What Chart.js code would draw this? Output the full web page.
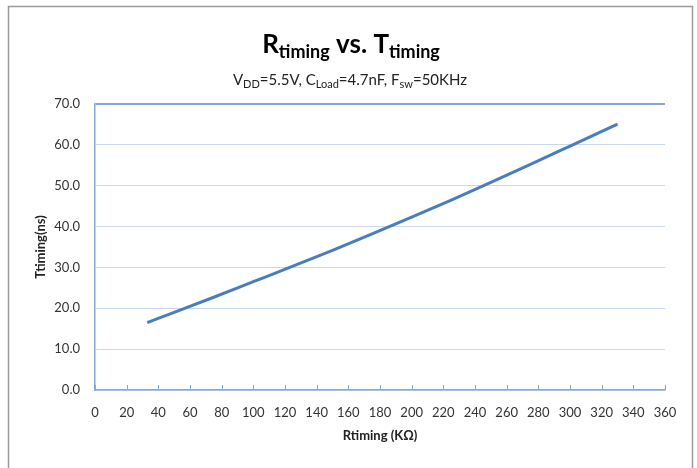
<!DOCTYPE html>
<html>
<head>
<meta charset="utf-8">
<script src="https://cdn.jsdelivr.net/npm/chart.js@4/dist/chart.umd.min.js"></script>
<style>
  body { margin: 0; background: #fff; }
  canvas { display: block; }
</style>
</head>
<body>
<canvas id="chart-rt" width="697" height="468"></canvas>
<script>
// ---------------------------------- data ----------------------------------
const rtiming = [33, 50, 75, 100, 125, 150, 175, 200, 225, 250, 275, 300, 330];
const ttiming = [16.5, 19.0, 22.7, 26.5, 30.3, 34.2, 38.2, 42.3, 46.5, 50.8, 55.2, 59.7, 65.1];
const yTicks = [0, 10, 20, 30, 40, 50, 60, 70];
const xTicks = [0, 20, 40, 60, 80, 100, 120, 140, 160, 180, 200, 220, 240, 260, 280, 300, 320, 340, 360];

const FONT = 'Lato, "Open Sans", "DejaVu Sans", sans-serif';
const axisColor = '#86a8d8';
const gridColor = '#c9d8ee';

// title with subscripts, drawn as rich text above the plot
function drawRich(ctx, parts, cx, baseline) {
    let total = 0;
    parts.forEach(p => {
        ctx.font = p.font;
        p.w = ctx.measureText(p.t).width;
        total += p.w;
    });
    let x = cx - total / 2;
    parts.forEach(p => {
        ctx.font = p.font;
        ctx.fillText(p.t, x, baseline + (p.dy || 0));
        x += p.w;
    });
}

const frameAndTitle = {
    id: 'frameAndTitle',
    afterDraw(chart) {
        const ctx = chart.ctx;
        ctx.save();
        // outer frame
        ctx.strokeStyle = '#9a9a9a';
        ctx.lineWidth = 1.5;
        ctx.strokeRect(8.5, 6.5, 684, 480);

        ctx.fillStyle = '#000';
        ctx.textBaseline = 'alphabetic';
        const big = 'bold 26px ' + FONT;
        const sub = 'bold 18px ' + FONT;
        drawRich(ctx, [
            { t: 'R', font: big },
            { t: 'timing', font: sub, dy: 5 },
            { t: ' vs. T', font: big },
            { t: 'timing', font: sub, dy: 5 }
        ], 351, 53);

        const n = '15px ' + FONT;
        const s = '11px ' + FONT;
        ctx.fillStyle = '#222';
        drawRich(ctx, [
            { t: 'V', font: n }, { t: 'DD', font: s, dy: 3 },
            { t: '=5.5V, C', font: n }, { t: 'Load', font: s, dy: 3 },
            { t: '=4.7nF, F', font: n }, { t: 'sw', font: s, dy: 3 },
            { t: '=50KHz', font: n }
        ], 350, 85);

        // small x tick marks pointing up into the plot
        const xs = chart.scales.x;
        const bottom = chart.chartArea.bottom;
        ctx.strokeStyle = axisColor;
        ctx.lineWidth = 1;
        xTicks.forEach(v => {
            const px = Math.round(xs.getPixelForValue(v)) + 0.5;
            ctx.beginPath();
            ctx.moveTo(px, bottom);
            ctx.lineTo(px, bottom - 5);
            ctx.stroke();
        });
        ctx.restore();
    }
};

const ctxRt = document.getElementById('chart-rt').getContext('2d');
const chart_rt = new Chart(ctxRt, {
    type: 'line',
    data: {
        datasets: [{
            label: 'Ttiming',
            data: rtiming.map((x, i) => ({ x: x, y: ttiming[i] })),
            borderColor: '#4a7ebb',
            backgroundColor: '#4a7ebb',
            borderWidth: 3,
            pointRadius: 0,
            cubicInterpolationMode: 'monotone',
            fill: false
        }]
    },
    options: {
        responsive: false,
        devicePixelRatio: 1,
        animation: false,
        layout: { padding: { top: 104, left: 33, right: 32, bottom: 24 } },
        plugins: {
            legend: { display: false },
            tooltip: { enabled: false }
        },
        scales: {
            x: {
                type: 'linear',
                min: 0,
                max: 360,
                afterFit: s => { s.height = 54; },
                afterBuildTicks: s => { s.ticks = xTicks.map(v => ({ value: v })); },
                grid: { display: false, drawTicks: false },
                border: { display: true, color: axisColor, width: 1.5 },
                ticks: { padding: 15, color: '#333', font: { family: FONT, size: 13 }, maxRotation: 0, autoSkip: false },
                title: { display: true, text: 'Rtiming (KΩ)', color: '#222', padding: 0, font: { family: FONT, size: 13, weight: 'bold' } }
            },
            y: {
                min: 0,
                max: 70,
                afterFit: s => { s.width = 62; },
                afterBuildTicks: s => { s.ticks = yTicks.map(v => ({ value: v })); },
                grid: {
                    drawTicks: false,
                    color: c => c.tick && c.tick.value === 70 ? axisColor : gridColor,
                    lineWidth: c => c.tick && c.tick.value === 70 ? 2 : 1
                },
                border: { display: true, color: axisColor, width: 1.5 },
                ticks: { padding: 15, color: '#333', font: { family: FONT, size: 13 }, callback: v => v.toFixed(1) },
                title: { display: true, text: 'Ttiming(ns)', color: '#222', padding: 0, font: { family: FONT, size: 13, weight: 'bold' } }
            }
        }
    },
    plugins: [frameAndTitle]
});
</script>
</body>
</html>
